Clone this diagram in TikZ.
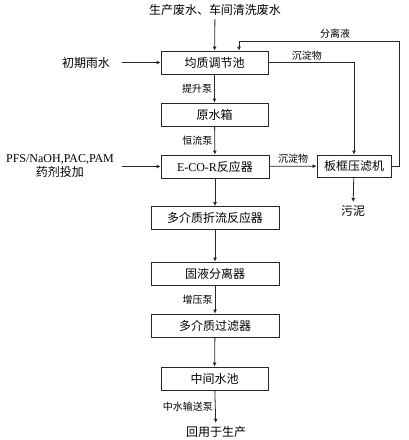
\documentclass[tikz,border=0pt]{standalone}
\usepackage{fontspec}
\setmainfont{Noto Sans CJK SC}
\newfontfamily\latin{Liberation Serif}
\usepackage{tikz}
\usetikzlibrary{arrows.meta}

\begin{document}
\begin{tikzpicture}[x=1pt, y=-1pt, font=\fontsize{12}{14}\selectfont,
  box/.style={draw=black!85, thick, minimum height=23pt, inner sep=0pt},
  arr/.style={draw=black!85, thick, -{Latex[length=4pt, width=4pt]}},
  lbl/.style={font=\fontsize{10}{11}\selectfont, inner sep=2pt}]

\useasboundingbox (0,0) rectangle (409,440);

\node (src) at (215,10) {生产废水、车间清洗废水};
\node (rain) at (86,62.5) {初期雨水};
\node[box, minimum width=107pt] (tank) at (214.5,62.5) {均质调节池};
\node[box, minimum width=107pt] (raw) at (214.5,114.5) {原水箱};
\node[align=center, inner sep=0pt] (chem) at (60,166) {{\latin PFS/NaOH,PAC,PAM}\\药剂投加};
\node[box, minimum width=108pt] (ecor) at (215,166.5) {{\latin E-CO-R}反应器};
\node[box, minimum width=74pt, minimum height=22pt] (press) at (354,166) {板框压滤机};
\node (mud) at (353,211) {污泥};
\node[box, minimum width=128pt] (baffle) at (215,218) {多介质折流反应器};
\node[box, minimum width=128pt] (sep) at (215,273.5) {固液分离器};
\node[box, minimum width=128pt] (filter) at (215,325.5) {多介质过滤器};
\node[box, minimum width=107pt] (pool) at (214.5,378.5) {中间水池};
\node (reuse) at (216,432) {回用于生产};
\coordinate (ret) at (239,41);

\draw[arr] (src) -- (tank);
\draw[arr] ([xshift=8pt]rain.east) -- (tank);
\draw[arr] (tank) -- node[lbl, left] {提升泵} (raw);
\draw[arr] (raw) -- node[lbl, left] {恒流泵} (ecor);
\draw[arr] ([xshift=8pt]chem.east |- ecor.west) -- (ecor);
\draw[arr] (ecor) -- node[lbl, above] {沉淀物} (press);
\draw[arr] (tank.east) -- node[lbl, above, pos=0.45] {沉淀物} (tank.east -| press.north) -- (press.north);
\draw[arr] (press.east) -- ++(8,0) |- node[lbl, above, pos=0.7] {分离液} (ret) -- (ret |- tank.north);
\draw[arr] (press) -- (mud);
\draw[arr] (ecor) -- (baffle);
\draw[arr] (baffle) -- (sep);
\draw[arr] (sep) -- node[lbl, left] {增压泵} (filter);
\draw[arr] (filter) -- (pool);
\draw[arr] (pool) -- node[lbl, left] {中水输送泵} (reuse);

\end{tikzpicture}
\end{document}
